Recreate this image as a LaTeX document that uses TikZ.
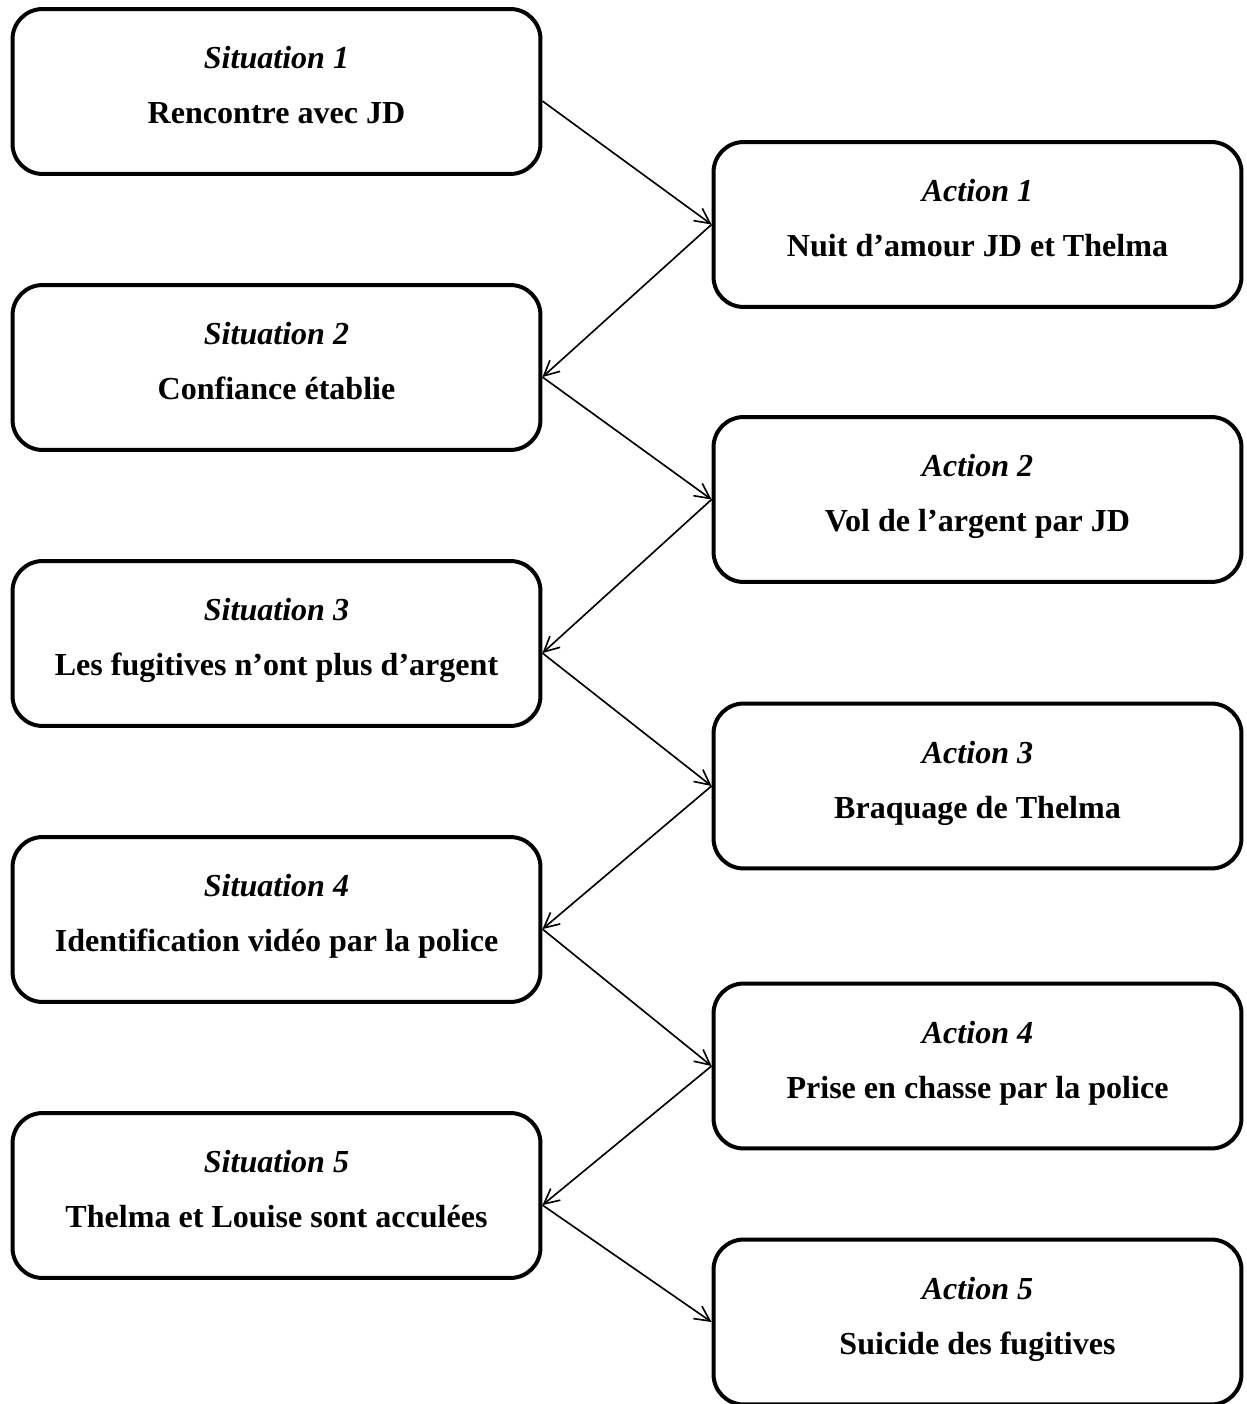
\documentclass[tikz,border=0pt]{standalone}
\usepackage{fontspec}
\setmainfont{Liberation Serif}
\usetikzlibrary{arrows.meta}
\newcommand{\boxtitle}[1]{\textbf{\textit{#1}}}
\begin{document}
\begin{tikzpicture}[x=0.365pt,y=-0.365pt,
    box/.style={draw, line width=1.46pt, rounded corners=11pt, minimum width=192.7pt, minimum height=60.2pt, align=center, font=\fontsize{11.7}{14}\selectfont, inner sep=0pt, text depth=4.6pt},
    flow/.style={line width=0.6pt, -{Straight Barb[length=5.5pt,width=5.5pt,line width=0.6pt]}}]
\useasboundingbox (0,0) rectangle (1246,1404);

% Situations
\node[box] (sit1) at (276.5,91.5) {\boxtitle{Situation 1}\\[6pt]\textbf{Rencontre avec JD}};
\node[box] (sit2) at (276.5,367.5) {\boxtitle{Situation 2}\\[6pt]\textbf{Confiance établie}};
\node[box] (sit3) at (276.5,643.5) {\boxtitle{Situation 3}\\[6pt]\textbf{Les fugitives n’ont plus d’argent}};
\node[box] (sit4) at (276.5,919.5) {\boxtitle{Situation 4}\\[6pt]\textbf{Identification vidéo par la police}};
\node[box] (sit5) at (276.5,1195.5) {\boxtitle{Situation 5}\\[6pt]\textbf{Thelma et Louise sont acculées}};

% Actions
\node[box] (act1) at (977.5,224.5) {\boxtitle{Action 1}\\[6pt]\textbf{Nuit d’amour JD et Thelma}};
\node[box] (act2) at (977.5,499.5) {\boxtitle{Action 2}\\[6pt]\textbf{Vol de l’argent par JD}};
\node[box] (act3) at (977.5,786) {\boxtitle{Action 3}\\[6pt]\textbf{Braquage de Thelma}};
\node[box] (act4) at (977.5,1066) {\boxtitle{Action 4}\\[6pt]\textbf{Prise en chasse par la police}};
\node[box] (act5) at (977.5,1322) {\boxtitle{Action 5}\\[6pt]\textbf{Suicide des fugitives}};

% Arrows
\foreach \i in {1,...,5}
    \draw[flow] ([yshift=-3.5pt]sit\i.east) -- (act\i.west);
\foreach \i/\j in {1/2,2/3,3/4,4/5}
    \draw[flow] (act\i.west) -- ([yshift=-3.5pt]sit\j.east);
\end{tikzpicture}
\end{document}
